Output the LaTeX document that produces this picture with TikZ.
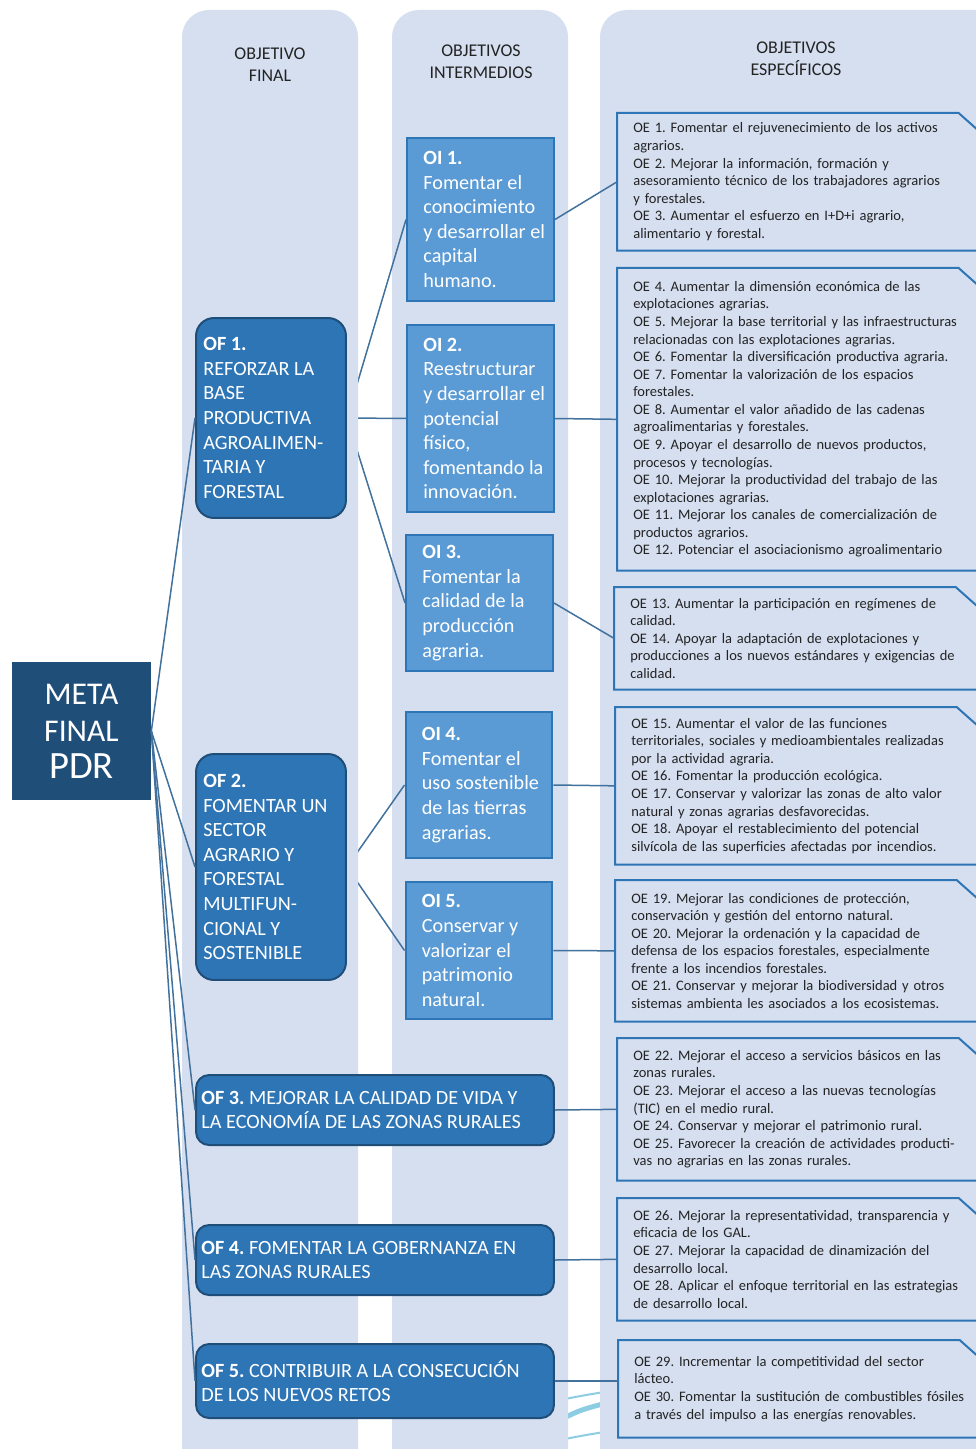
\documentclass[tikz,border=0pt]{standalone}
\usepackage{fontspec}
\setmainfont{Carlito}
\usetikzlibrary{positioning, calc}
\frenchspacing
\definecolor{pdrcolumn}{RGB}{213,223,240}
\definecolor{pdrdark}{RGB}{31,78,121}
\definecolor{pdrmid}{RGB}{46,117,182}
\definecolor{pdrlight}{RGB}{91,155,213}
\definecolor{pdrline}{RGB}{65,113,156}
\definecolor{pdrswoosh}{RGB}{140,205,228}
\definecolor{pdrtext}{RGB}{35,35,35}
\pgfdeclarelayer{back}
\pgfdeclarelayer{colone}
\pgfsetlayers{back,colone,main}

\begin{document}
\begin{tikzpicture}[x=0.02cm, y=-0.02cm,
    column/.style={fill=pdrcolumn, rounded corners=0.54cm},
    head/.style={align=center, text=pdrtext, font=\fontsize{10.2}{12.5}\selectfont},
    metabox/.style={rectangle, fill=pdrdark, text=white, align=center, minimum width=2.78cm, minimum height=2.76cm, font=\fontsize{18}{21}\selectfont},
    ofbox/.style={rectangle, rounded corners=#1, draw=pdrdark, fill=pdrmid, line width=0.04cm},
    oibox/.style={rectangle, draw=pdrmid, fill=pdrlight, line width=0.04cm, minimum width=2.94cm},
    boxtext/.style={inner sep=0, align=left, text=white, font=\fontsize{11.5}{14}\selectfont},
    oebox/.style={anchor=north west, minimum width=7.9cm, text width=7.26cm, inner xsep=0.32cm, inner ysep=0, align=left, text=pdrtext, font=\fontsize{8.25}{10}\selectfont},
    oeline/.style={draw=pdrmid, line width=0.04cm},
    link/.style={draw=pdrline, line width=0.03cm}
]
\useasboundingbox (0,0) rectangle (975,1449);

% Column headers
\node[head] (hfinal) at (270,65) {OBJETIVO\\FINAL};
\node[head] (hinter) at (481,62) {OBJETIVOS\\INTERMEDIOS};
\node[head] (hespec) at (796,59) {OBJETIVOS\\ESPECÍFICOS};

% Meta final
\node[metabox] (meta) at (81.5,731) {META\\FINAL\\{\fontsize{22}{24}\selectfont PDR}};

% Objetivos finales
\node[ofbox=0.36cm, minimum width=3cm, minimum height=4cm] (of1) at (271,418) {};
\node[boxtext, right=0.16cm of of1.west] (of1t) {\textbf{OF 1.}\\REFORZAR LA\\BASE\\PRODUCTIVA\\AGROALIMEN-\\TARIA Y\\FORESTAL};

\node[ofbox=0.36cm, minimum width=3cm, minimum height=4.52cm] (of2) at (271,867) {};
\node[boxtext, right=0.16cm of of2.west] (of2t) {\textbf{OF 2.}\\FOMENTAR UN\\SECTOR\\AGRARIO Y\\FORESTAL\\MULTIFUN-\\CIONAL Y\\SOSTENIBLE};

\node[ofbox=0.26cm, minimum width=7.16cm, minimum height=1.4cm] (of3) at (375,1110) {};
\node[boxtext, right=0.12cm of of3.west] (of3t) {\textbf{OF 3.} MEJORAR LA CALIDAD DE VIDA Y\\LA ECONOMÍA DE LAS ZONAS RURALES};

\node[ofbox=0.26cm, minimum width=7.16cm, minimum height=1.4cm] (of4) at (375,1260) {};
\node[boxtext, right=0.12cm of of4.west] (of4t) {\textbf{OF 4.} FOMENTAR LA GOBERNANZA EN\\LAS ZONAS RURALES};

\node[ofbox=0.26cm, minimum width=7.16cm, minimum height=1.48cm] (of5) at (375,1381) {};
\node[boxtext, right=0.12cm of of5.west] (of5t) {\textbf{OF 5.} CONTRIBUIR A LA CONSECUCIÓN\\DE LOS NUEVOS RETOS};

% Objetivos intermedios
\node[oibox, minimum height=3.26cm] (oi1) at (480.5,219.5) {};
\node[boxtext, right=0.34cm of oi1.west] (oi1t) {\textbf{OI 1.}\\Fomentar el\\conocimiento\\y desarrollar el\\capital\\humano.};

\node[oibox, minimum height=3.74cm] (oi2) at (480.5,418.5) {};
\node[boxtext, right=0.34cm of oi2.west] (oi2t) {\textbf{OI 2.}\\Reestructurar\\y desarrollar el\\potencial\\físico,\\fomentando la\\innovación.};

\node[oibox, minimum height=2.72cm] (oi3) at (479.5,603) {};
\node[boxtext, right=0.34cm of oi3.west] (oi3t) {\textbf{OI 3.}\\Fomentar la\\calidad de la\\producción\\agraria.};

\node[oibox, minimum height=2.92cm] (oi4) at (479,785) {};
\node[boxtext, right=0.34cm of oi4.west] (oi4t) {\textbf{OI 4.}\\Fomentar el\\uso sostenible\\de las tierras\\agrarias.};

\node[oibox, minimum height=2.74cm] (oi5) at (479,950.5) {};
\node[boxtext, right=0.34cm of oi5.west] (oi5t) {\textbf{OI 5.}\\Conservar y\\valorizar el\\patrimonio\\natural.};

% Objetivos especificos
\node[oebox, minimum height=2.74cm] (oe1) at (617,113) {OE 1. Fomentar el rejuvenecimiento de los activos\\agrarios.\\OE 2. Mejorar la información, formación y\\asesoramiento técnico de los trabajadores agrarios\\y forestales.\\OE 3. Aumentar el esfuerzo en I+D+i agrario,\\alimentario y forestal.};

\node[oebox, minimum height=6.04cm] (oe2) at (617,268) {OE 4. Aumentar la dimensión económica de las\\explotaciones agrarias.\\OE 5. Mejorar la base territorial y las infraestructuras\\relacionadas con las explotaciones agrarias.\\OE 6. Fomentar la diversificación productiva agraria.\\OE 7. Fomentar la valorización de los espacios\\forestales.\\OE 8. Aumentar el valor añadido de las cadenas\\agroalimentarias y forestales.\\OE 9. Apoyar el desarrollo de nuevos productos,\\procesos y tecnologías.\\OE 10. Mejorar la productividad del trabajo de las\\explotaciones agrarias.\\OE 11. Mejorar los canales de comercialización de\\productos agrarios.\\OE 12. Potenciar el asociacionismo agroalimentario};

\node[oebox, minimum height=2.04cm] (oe3) at (614,587) {OE 13. Aumentar la participación en regímenes de\\calidad.\\OE 14. Apoyar la adaptación de explotaciones y\\producciones a los nuevos estándares y exigencias de\\calidad.};

\node[oebox, minimum height=3.14cm] (oe4) at (615,707) {OE 15. Aumentar el valor de las funciones\\territoriales, sociales y medioambientales realizadas\\por la actividad agraria.\\OE 16. Fomentar la producción ecológica.\\OE 17. Conservar y valorizar las zonas de alto valor\\natural y zonas agrarias desfavorecidas.\\OE 18. Apoyar el restablecimiento del potencial\\silvícola de las superficies afectadas por incendios.};

\node[oebox, minimum height=2.82cm] (oe5) at (615,880) {OE 19. Mejorar las condiciones de protección,\\conservación y gestión del entorno natural.\\OE 20. Mejorar la ordenación y la capacidad de\\defensa de los espacios forestales, especialmente\\frente a los incendios forestales.\\OE 21. Conservar y mejorar la biodiversidad y otros\\sistemas ambienta les asociados a los ecosistemas.};

\node[oebox, minimum height=2.84cm] (oe6) at (617,1038) {OE 22. Mejorar el acceso a servicios básicos en las\\zonas rurales.\\OE 23. Mejorar el acceso a las nuevas tecnologías\\(TIC) en el medio rural.\\OE 24. Conservar y mejorar el patrimonio rural.\\OE 25. Favorecer la creación de actividades producti-\\vas no agrarias en las zonas rurales.};

\node[oebox, minimum height=2.44cm] (oe7) at (617,1198) {OE 26. Mejorar la representatividad, transparencia y\\eficacia de los GAL.\\OE 27. Mejorar la capacidad de dinamización del\\desarrollo local.\\OE 28. Aplicar el enfoque territorial en las estrategias\\de desarrollo local.};

\node[oebox, minimum height=1.94cm] (oe8) at (618,1340) {OE 29. Incrementar la competitividad del sector\\lácteo.\\OE 30. Fomentar la sustitución de combustibles fósiles\\a través del impulso a las energías renovables.};

% Cut-corner frames
\foreach \i in {1,...,8}
    \draw[oeline] (oe\i.north west) -- ($(oe\i.north east)+(-54,0)$) -- ($(oe\i.north east)+(0,48)$) -- (oe\i.south east) -- (oe\i.south west) -- cycle;

% Meta to objetivos finales
\foreach \i in {1,...,5}
    \draw[link] (meta.east) -- (of\i.west);

\begin{pgfonlayer}{back}
    % light strokes between columns
    \draw[pdrswoosh, line width=0.04cm] (560,1400) .. controls (580,1396) .. (610,1391);
    \draw[pdrswoosh, line width=0.1cm] (560,1420) .. controls (580,1410) .. (610,1402);
    \draw[pdrswoosh, line width=0.04cm] (560,1440) .. controls (580,1436) .. (610,1431);
    \fill[column] (392,10) rectangle (568,1500);
    \fill[column] (600,10) rectangle (1100,1500);
    % connectors
    \draw[link] (of1.east) -- (oi1.west);
    \draw[link] (of1.east) -- (oi2.west);
    \draw[link] (of1.east) -- (oi3.west);
    \draw[link] (of2.east) -- (oi4.west);
    \draw[link] (of2.east) -- (oi5.west);
    \draw[link] (oi1.east) -- (oe1.west);
    \draw[link] (oi2.east) -- (oe2.west);
    \draw[link] (oi3.east) -- (oe3.west);
    \draw[link] (oi4.east) -- (oe4.west);
    \draw[link] (oi5.east) -- (oe5.west);
    \draw[link] (of3.east) -- (oe6.west);
    \draw[link] (of4.east) -- (oe7.west);
    \draw[link] (of5.east) -- (of5.east -| oe8.west);
\end{pgfonlayer}
\begin{pgfonlayer}{colone}
    \fill[column] (182,10) rectangle (358,1500);
\end{pgfonlayer}

\end{tikzpicture}
\end{document}
